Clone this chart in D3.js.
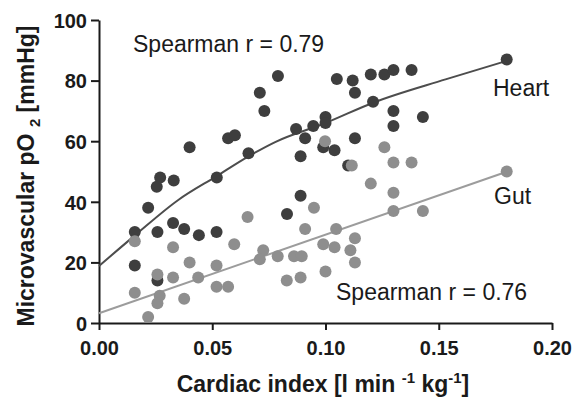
<!doctype html>
<html>

<head>
    <meta charset="UTF-8">
    <title>Microvascular pO2 vs cardiac index</title>
    <script src="https://d3js.org/d3.v7.min.js"></script>
    <style>
        body { margin: 0; background: #fff; }
        text { font-family: "Liberation Sans", Arial, sans-serif; }
    </style>
</head>

<body>
    <script>
        var width = 577;
        var height = 403;

        // heart points (cardiac index, pO2)
        var heartX = [0.0158, 0.0158, 0.0217, 0.0258, 0.0258, 0.0255, 0.027, 0.033, 0.0327, 0.0376,
            0.040, 0.0441, 0.0519, 0.052, 0.057, 0.060, 0.066, 0.071, 0.073, 0.079,
            0.083, 0.087, 0.089, 0.089, 0.091, 0.0946, 0.100, 0.100, 0.099, 0.104,
            0.105, 0.110, 0.112, 0.113, 0.113, 0.120, 0.121, 0.126, 0.130, 0.130,
            0.130, 0.138, 0.143, 0.180];
        var heartY = [19, 30, 38, 14, 30, 45, 48, 47, 33, 31,
            58, 29, 30, 48, 61, 62, 56, 76, 70, 81.5,
            36, 64, 55, 42, 61, 65, 68, 66, 58, 57,
            80.5, 52, 80, 76, 61, 82, 73, 82, 83.5, 70,
            65, 83.5, 68, 87];

        // gut points
        var gutX = [0.0158, 0.0158, 0.0217, 0.0258, 0.0268, 0.0258, 0.0327, 0.0327, 0.0376, 0.040,
            0.0438, 0.0519, 0.0519, 0.057, 0.0597, 0.0656, 0.0725, 0.071, 0.0789, 0.0829,
            0.0861, 0.0895, 0.089, 0.091, 0.0949, 0.099, 0.0998, 0.100, 0.104, 0.1047,
            0.111, 0.113, 0.113, 0.1116, 0.120, 0.126, 0.130, 0.130, 0.130, 0.138,
            0.143, 0.180];
        var gutY = [27, 10, 2, 16, 9, 6.5, 25, 15, 8, 20,
            15, 19, 12, 12, 26, 35, 24, 21, 22, 14,
            22, 22, 15, 31, 38, 26, 60, 17, 25, 31,
            24, 28, 20, 52, 46, 58, 53, 43, 37, 53,
            37, 50];

        // fitted curves
        var heartFitX = [0, 0.016, 0.035, 0.052, 0.066, 0.078, 0.10, 0.121, 0.153, 0.18];
        var heartFitY = [18.8, 29, 40.6, 48.5, 55, 59.8, 66, 72.7, 80.4, 86.5];
        var gutFitX = [0, 0.18];
        var gutFitY = [3.2, 49.9];

        var xTicks = [0, 0.05, 0.10, 0.15, 0.20];
        var yTicks = [0, 20, 40, 60, 80, 100];

        var x = d3.scaleLinear().domain([0, 0.2]).range([99, 552]);
        var y = d3.scaleLinear().domain([0, 100]).range([323, 20]);

        var svg = d3.select("body").append("svg")
            .attr("width", width)
            .attr("height", height);

        var zip = function (xs, ys) { return xs.map(function (v, i) { return [v, ys[i]]; }); };

        var line = d3.line()
            .x(function (d) { return x(d[0]); })
            .y(function (d) { return y(d[1]); });

        // axes
        var xAxis = svg.append("g")
            .attr("transform", "translate(0," + y(0) + ")")
            .call(d3.axisBottom(x).tickValues(xTicks).tickFormat(d3.format(".2f")).tickSize(7).tickSizeOuter(0));
        var yAxis = svg.append("g")
            .attr("transform", "translate(" + x(0) + ",0)")
            .call(d3.axisLeft(y).tickValues(yTicks).tickSize(8).tickSizeOuter(0));

        [xAxis, yAxis].forEach(function (g) {
            g.selectAll("path, line").attr("stroke", "#1a1a1a").attr("stroke-width", 2);
            g.selectAll("text")
                .attr("fill", "#1a1a1a")
                .style("font-size", "20px")
                .style("font-weight", "bold");
        });
        xAxis.selectAll("text").attr("y", 18);
        yAxis.selectAll("text").attr("x", -12).attr("dy", "0.36em");

        // fit lines
        svg.append("path")
            .datum(zip(heartFitX, heartFitY))
            .attr("fill", "none")
            .attr("stroke", "#4d4d4d")
            .attr("stroke-width", 2)
            .attr("d", line.curve(d3.curveMonotoneX));
        svg.append("path")
            .datum(zip(gutFitX, gutFitY))
            .attr("fill", "none")
            .attr("stroke", "#9c9c9c")
            .attr("stroke-width", 2)
            .attr("d", line.curve(d3.curveLinear));

        // points
        svg.append("g").selectAll("circle")
            .data(zip(heartX, heartY))
            .enter().append("circle")
            .attr("cx", function (d) { return x(d[0]); })
            .attr("cy", function (d) { return y(d[1]); })
            .attr("r", 6)
            .attr("fill", "#3e3e3e");
        svg.append("g").selectAll("circle")
            .data(zip(gutX, gutY))
            .enter().append("circle")
            .attr("cx", function (d) { return x(d[0]); })
            .attr("cy", function (d) { return y(d[1]); })
            .attr("r", 6)
            .attr("fill", "#8e8e8e");

        // labels
        var labelStyle = function (t) {
            t.attr("fill", "#1a1a1a").style("font-size", "23px");
        };
        svg.append("text").attr("x", 133).attr("y", 52).text("Spearman r = 0.79").call(labelStyle);
        svg.append("text").attr("x", 336).attr("y", 300).text("Spearman r = 0.76").call(labelStyle);
        svg.append("text").attr("x", 493).attr("y", 96).text("Heart").call(labelStyle);
        svg.append("text").attr("x", 494).attr("y", 204).text("Gut").call(labelStyle);

        // axis titles
        var xt = svg.append("text")
            .attr("x", 323).attr("y", 392)
            .attr("text-anchor", "middle")
            .attr("fill", "#1a1a1a")
            .style("font-size", "23px")
            .style("font-weight", "bold");
        xt.append("tspan").text("Cardiac index [l min ");
        xt.append("tspan").attr("dy", -9).style("font-size", "15px").text("-1");
        xt.append("tspan").attr("dy", 9).text(" kg");
        xt.append("tspan").attr("dy", -9).style("font-size", "15px").text("-1");
        xt.append("tspan").attr("dy", 9).text("]");

        var yt = svg.append("text")
            .attr("transform", "translate(34,176) rotate(-90)")
            .attr("text-anchor", "middle")
            .attr("fill", "#1a1a1a")
            .style("font-size", "23px")
            .style("font-weight", "bold");
        yt.append("tspan").text("Microvascular pO ");
        yt.append("tspan").attr("dy", 6).style("font-size", "15px").text("2");
        yt.append("tspan").attr("dy", -6).text(" [mmHg]");
    </script>
</body>

</html>
